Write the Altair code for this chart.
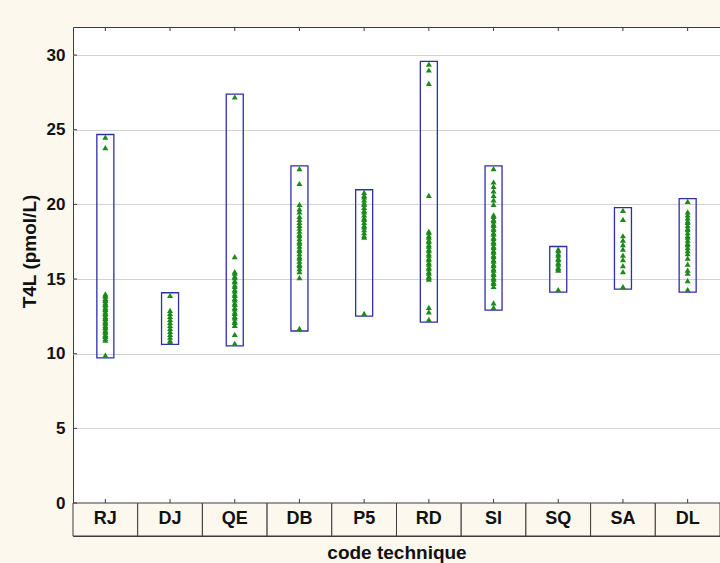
import altair as alt
import pandas as pd

# Technique codes along the x axis
categories = ["RJ", "DJ", "QE", "DB", "P5", "RD", "SI", "SQ", "SA", "DL"]

# Free T4 results (pmol/L) per technique
rj = [24.5, 23.8, 14.0, 13.9, 13.85, 13.7, 13.6, 13.55, 13.4, 13.3, 13.25, 13.1, 13.0,
      12.95, 12.8, 12.7, 12.65, 12.5, 12.4, 12.35, 12.2, 12.1, 12.05, 11.9, 11.8, 11.75,
      11.6, 11.5, 11.45, 11.3, 11.2, 11.15, 11.0, 10.9, 9.9]
dj = [13.9, 12.9, 12.7, 12.5, 12.3, 12.1, 11.9, 11.7, 11.5, 11.3, 11.1, 10.9, 10.8]
qe = [27.2, 16.5, 15.5, 15.4, 15.2, 15.1, 14.9, 14.8, 14.6, 14.5, 14.3, 14.2, 14.0,
      13.9, 13.7, 13.6, 13.4, 13.3, 13.1, 13.0, 12.8, 12.7, 12.5, 12.4, 12.2, 12.1,
      11.9, 11.3, 10.7]
db = [22.4, 21.4, 20.0, 19.7, 19.5, 19.2, 19.0, 18.8, 18.6, 18.4, 18.2, 18.0, 17.9,
      17.7, 17.5, 17.4, 17.2, 17.0, 16.9, 16.7, 16.5, 16.4, 16.2, 16.0, 15.9, 15.7,
      15.5, 15.1, 11.7]
p5 = [20.8, 20.6, 20.5, 20.3, 20.1, 20.0, 19.8, 19.6, 19.5, 19.3, 19.1, 19.0, 18.8,
      18.6, 18.5, 18.3, 18.1, 17.9, 17.8, 12.7]
rd = [29.4, 29.0, 28.1, 20.6, 18.2, 18.1, 17.9, 17.8, 17.6, 17.5, 17.3, 17.2, 17.0,
      16.9, 16.7, 16.6, 16.4, 16.3, 16.1, 16.0, 15.8, 15.7, 15.5, 15.4, 15.2, 15.1,
      15.0, 13.1, 12.8, 12.3]
si = [22.4, 21.5, 21.2, 20.9, 20.6, 20.3, 20.0, 19.3, 19.2, 19.0, 18.9, 18.7, 18.6,
      18.4, 18.3, 18.1, 18.0, 17.8, 17.7, 17.5, 17.4, 17.2, 17.1, 16.9, 16.8, 16.6,
      16.5, 16.3, 16.2, 16.0, 15.9, 15.7, 15.6, 15.4, 15.3, 15.1, 15.0, 14.8, 14.7,
      14.5, 13.4, 13.1]
sq = [17.0, 16.9, 16.7, 16.6, 16.4, 16.3, 16.1, 16.0, 15.8, 15.7, 15.6, 14.3]
sa = [19.6, 19.0, 17.9, 17.6, 17.3, 17.0, 16.6, 16.3, 15.9, 15.5, 14.5]
dl = [20.2, 19.5, 19.3, 19.1, 18.9, 18.8, 18.6, 18.4, 18.3, 18.1, 17.9, 17.8, 17.6,
      17.4, 17.3, 17.1, 16.9, 16.7, 16.4, 16.0, 15.6, 15.4, 14.9, 14.3]

series = [rj, dj, qe, db, p5, rd, si, sq, sa, dl]

# Y axis
y_ticks = [0, 5, 10, 15, 20, 25, 30]
Y_TOP = 31.88
Y_STRIP = -2.21   # bottom of the label strip under zero

FONT = "Liberation Sans"
CREAM = "#fcf8ee"
FRAME = "#3c3c3c"
INK = "#111111"

rows = [{"code": c, "t4l": v} for c, vals in zip(categories, series) for v in vals]
df = pd.DataFrame(rows)
cat_df = pd.DataFrame({"code": categories})
tick_df = pd.DataFrame({"tick": y_ticks})

x_scale = alt.Scale(domain=categories, paddingInner=0, paddingOuter=0)
y_scale = alt.Scale(domain=[Y_STRIP, Y_TOP], nice=False, zero=False)

x_axis = alt.Axis(title="code technique", labels=False, ticks=False, domain=False,
                  grid=False, titleFont=FONT, titleFontSize=19, titleFontWeight="bold",
                  titleColor=INK, titlePadding=7)
y_axis = alt.Axis(title="T4L (pmol/L)", values=y_ticks, grid=True, gridColor="#d2d2d2",
                  gridWidth=1, ticks=False, domain=False, labelFont=FONT,
                  labelFontSize=17, labelFontWeight="bold", labelColor=INK,
                  labelPadding=8, titleFont=FONT, titleFontSize=19,
                  titleFontWeight="bold", titleColor=INK, titleAngle=270,
                  titleBaseline="middle", titleX=-44, titleY=224)

x_enc = alt.X("code:N", scale=x_scale, sort=categories, axis=x_axis)

# Label strip below zero
strip = alt.Chart(cat_df).mark_rect(fill=CREAM, stroke=FRAME, strokeWidth=1).encode(
    x=x_enc,
    y=alt.YDatum(Y_STRIP, scale=y_scale, axis=y_axis),
    y2=alt.Y2Datum(0),
)
strip_text = alt.Chart(cat_df).mark_text(
    font=FONT, fontSize=18, fontWeight="bold", color=INK, baseline="middle"
).encode(
    x=x_enc,
    y=alt.YDatum(-1.1, scale=y_scale, axis=y_axis),
    text="code:N",
)

# Min-max boxes
boxes = alt.Chart(df).transform_aggregate(
    lo="min(t4l)", hi="max(t4l)", groupby=["code"]
).transform_calculate(
    lo="datum.lo - 0.18", hi="datum.hi + 0.18"
).mark_bar(size=17, fillOpacity=0, stroke="#2f2fa8", strokeWidth=1.3).encode(
    x=x_enc,
    y=alt.Y("lo:Q", scale=y_scale, axis=y_axis),
    y2="hi:Q",
)

# Individual results
points = alt.Chart(df).mark_point(
    shape="triangle-up", filled=True, size=36, color="#1b8a1b", opacity=1
).encode(
    x=x_enc,
    y=alt.Y("t4l:Q", scale=y_scale, axis=y_axis),
)

# Inward tick marks on the frame
top_ticks = alt.Chart(cat_df).mark_rule(color=FRAME, strokeWidth=1).encode(
    x=x_enc, y=alt.value(0), y2=alt.value(4)
)
zero_ticks = alt.Chart(cat_df).mark_rule(color=FRAME, strokeWidth=1).encode(
    x=x_enc,
    y=alt.YDatum(0, scale=y_scale, axis=y_axis),
    y2=alt.Y2Datum(0.27),
)
left_ticks = alt.Chart(tick_df).mark_rule(color=FRAME, strokeWidth=1).encode(
    x=alt.value(0), x2=alt.value(4),
    y=alt.Y("tick:Q", scale=y_scale, axis=y_axis),
)

chart = alt.layer(
    strip, boxes, points, strip_text, top_ticks, zero_ticks, left_ticks
).properties(
    width=647, height=509,
    padding={"left": 73, "top": 27, "right": 0, "bottom": 27},
    autosize=alt.AutoSizeParams(type="none"),
    background=CREAM,
).configure_view(
    fill="white", stroke=FRAME, strokeWidth=1
)

chart.save("out.html", embed_options={"renderer": "svg", "actions": False})
